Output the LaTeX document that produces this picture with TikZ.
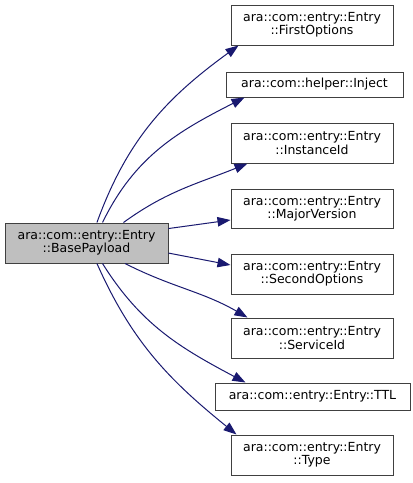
\documentclass[tikz,border=0pt]{standalone}
\usepackage{fontspec}
\setmainfont{DejaVu Sans}
\usetikzlibrary{arrows.meta}
\definecolor{edgeblue}{HTML}{191970}
\definecolor{boxborder}{HTML}{404040}
\definecolor{curfill}{HTML}{BFBFBF}
\tikzset{
  box/.style={draw=boxborder, line width=1pt, fill=white, inner sep=0pt,
    align=center, font=\fontsize{12.5}{13.4}\selectfont, text=black,
    minimum height=40pt, minimum width=162pt},
  cur/.style={box, fill=curfill},
  edge/.style={draw=edgeblue, line width=1pt,
    -{Triangle[length=13pt,width=9.5pt]}},
}
\begin{document}
\begin{tikzpicture}[x=1pt,y=-1pt]
\path[use as bounding box, fill=white] (0,0) rectangle (413,483);
\node[cur, minimum width=163pt] (base) at (86.5,243) {ara::com::entry::Entry\\::BasePayload};
\node[box] (fo) at (312,25) {ara::com::entry::Entry\\::FirstOptions};
\node[box, minimum width=177pt, minimum height=25pt] (inj) at (314.5,84.5) {ara::com::helper::Inject};
\node[box] (iid) at (312,143) {ara::com::entry::Entry\\::InstanceId};
\node[box, minimum height=39pt] (mv) at (312,208.5) {ara::com::entry::Entry\\::MajorVersion};
\node[box] (so) at (312,274) {ara::com::entry::Entry\\::SecondOptions};
\node[box] (sid) at (312,338) {ara::com::entry::Entry\\::ServiceId};
\node[box, minimum width=195pt, minimum height=27pt] (ttl) at (312.5,396.5) {ara::com::entry::Entry::TTL};
\node[box] (ty) at (312,455) {ara::com::entry::Entry\\::Type};

\draw[edge] (base.63) to[out=70,in=216] ([xshift=8pt]fo.south west);
\draw[edge] (base.52) to[out=64,in=207] ([xshift=19pt]inj.south west);
\draw[edge] (base.29) to[out=36,in=202] ([xshift=17pt]iid.south west);
\draw[edge] (base.10) -- ([yshift=-11.5pt]mv.west);
\draw[edge] (base.-7) -- ([yshift=9pt]so.west);
\draw[edge] (base.-28) to[out=-27,in=150] ([xshift=17pt]sid.north west);
\draw[edge] (base.-52) to[out=-58,in=152] ([xshift=31pt]ttl.north west);
\draw[edge] (base.-63) to[out=-66,in=141] ([xshift=6pt]ty.north west);
\end{tikzpicture}
\end{document}
